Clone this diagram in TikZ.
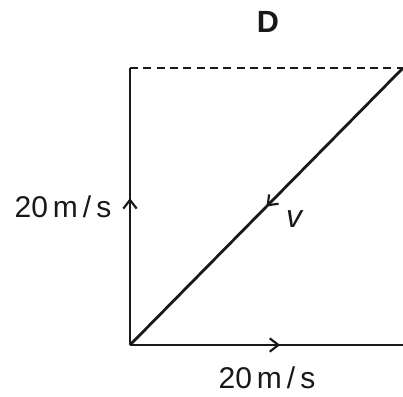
\documentclass[tikz,border=0pt]{standalone}
\usepackage{fontspec}
\setmainfont{Liberation Sans}
\usetikzlibrary{arrows.meta,decorations.markings}
\begin{document}
\begin{tikzpicture}[x=0.75pt,y=-0.75pt]
		\tikzstyle{every node}=[font=\fontsize{22.5pt}{27pt}\selectfont, text=black!90]
		\tikzset{vec/.style={line width=2.1pt, draw=black!90, postaction={decorate},
			decoration={markings, mark=at position #1 with {\arrow{Straight Barb[length=6.5pt,width=10pt,line width=1.6pt]}}}}}
		
		\useasboundingbox (0,0) rectangle (403,396);
		
		\coordinate (O) at (130,345);
		\coordinate (T) at (130,68);
		\coordinate (R) at (403,68);
		\coordinate (B) at (403,345);
		
		\draw[line width=0.9pt, draw=black!90, dash pattern=on 6pt off 4pt] (T) -- (R);
		\draw[vec=0.53] (O) -- (T);
		\draw[vec=0.55] (O) -- (B);
		\draw[vec=0.5] (R) -- (O);
		
		\node[font=\fontsize{23pt}{27pt}\selectfont\bfseries] (lblD) at (268,22) {D};
		\node[anchor=east] (lblup) at (116,207) {20\,m\,/\,s};
		\node (lblright) at (267,378) {20\,m\,/\,s};
		\node[font=\fontsize{24pt}{28pt}\selectfont\itshape] (lblv) at (294,219) {v};
		
	\end{tikzpicture}
\end{document}
